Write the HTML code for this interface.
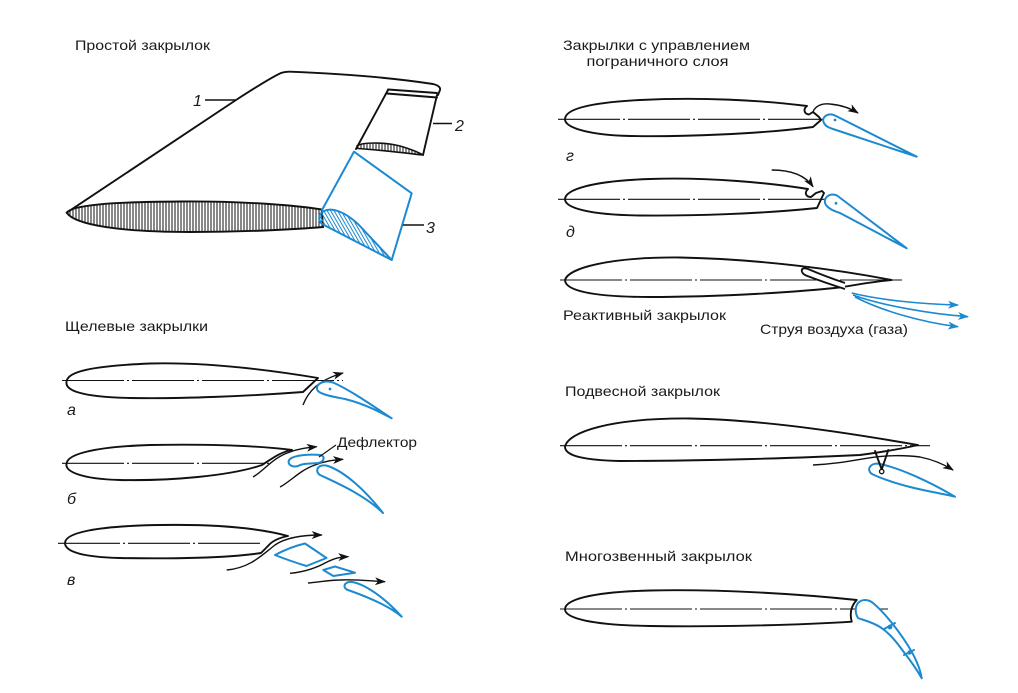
<!DOCTYPE html>
<html><head><meta charset="utf-8"><style>
html,body{margin:0;padding:0;background:#fff;}
svg{display:block;}
text{font-family:"Liberation Sans","DejaVu Sans",sans-serif;fill:#1a1a1a;}
.t{font-size:14px;}
.it{font-size:16px;font-style:italic;}
.k{fill:none;stroke:#111;stroke-width:1.9;stroke-linejoin:round;stroke-linecap:round;}
.kw{fill:#fff;stroke:#111;stroke-width:1.9;stroke-linejoin:round;}
.b{fill:none;stroke:#1c8ad0;stroke-width:2;stroke-linejoin:round;stroke-linecap:round;}
.bw{fill:#fff;stroke:#1c8ad0;stroke-width:2;stroke-linejoin:round;}
.ch{fill:none;stroke:#111;stroke-width:1.1;stroke-dasharray:62 3 2 3;}
.ar{fill:none;stroke:#111;stroke-width:1.4;}
.ab{fill:none;stroke:#1c8ad0;stroke-width:1.6;}
</style></head><body>
<svg width="1018" height="693" viewBox="0 0 1018 693" xmlns="http://www.w3.org/2000/svg">
<defs>
<pattern id="vh" patternUnits="userSpaceOnUse" width="3" height="10">
<line x1="1" y1="0" x2="1" y2="10" stroke="#111" stroke-width="1"/>
</pattern>
<pattern id="bh" patternUnits="userSpaceOnUse" width="3" height="10" patternTransform="rotate(-30)">
<line x1="1" y1="0" x2="1" y2="10" stroke="#1c8ad0" stroke-width="1"/>
</pattern>
<marker id="ma" markerUnits="userSpaceOnUse" markerWidth="11" markerHeight="8" refX="10" refY="4" orient="auto">
<path d="M0,0 L11,4 L0,8 L3,4 Z" fill="#111"/>
</marker>
<marker id="mb" markerUnits="userSpaceOnUse" markerWidth="11" markerHeight="8" refX="10" refY="4" orient="auto">
<path d="M0,0 L11,4 L0,8 L3,4 Z" fill="#1c8ad0"/>
</marker>
</defs>

<!-- ===== Простой закрылок ===== -->
<text class="t" x="75" y="50" textLength="135" lengthAdjust="spacingAndGlyphs">Простой закрылок</text>

<!-- wing outline -->
<path class="k" d="M66.7,212.7 L236,100 Q270,78 281,73 Q285,71.5 290,71.7 C350,74 400,79 433,84 Q441,86 440,90 L438,95"/>
<!-- aileron -->
<path class="k" d="M388,89.5 L437,93 M387,93.5 L437,97.5"/>
<path class="k" d="M388,90 L356,149"/>
<path class="k" d="M437,95 L423,155"/>
<path d="M357,146 C362,142 385,142 400,146 C410,149 418,152 423,155 C405,153 380,150 358,148.5 Z" fill="url(#vh)" stroke="#111" stroke-width="1.6"/>
<!-- root section -->
<path d="M66.7,212.7 C72,205 110,202 180,201.5 C250,201 300,206 321.7,209.5 L323,227 C300,229 250,232 190,232 C120,232 75,225 66.7,212.7 Z" fill="url(#vh)" stroke="#111" stroke-width="1.9"/>
<!-- flap 3 -->
<path class="b" d="M322,210 L354,151.7 L411.7,193.3 L391.7,260"/>
<path d="M324,211 C332,207 345,212 358,224 L391.7,260 L322,224 C318,220 318,214 324,211 Z" fill="url(#bh)" stroke="#1c8ad0" stroke-width="2" stroke-linejoin="round"/>
<!-- labels 1 2 3 -->
<line x1="205" y1="100" x2="236" y2="100" stroke="#111" stroke-width="1.4"/>
<text class="it" x="193" y="106">1</text>
<line x1="433" y1="123.5" x2="452" y2="123.5" stroke="#111" stroke-width="1.4"/>
<text class="it" x="455" y="131">2</text>
<line x1="403" y1="225" x2="424" y2="225" stroke="#111" stroke-width="1.4"/>
<text class="it" x="426" y="233">3</text>

<!-- ===== Щелевые закрылки ===== -->
<text class="t" x="65" y="331" textLength="143" lengthAdjust="spacingAndGlyphs">Щелевые закрылки</text>

<!-- a -->
<path class="k" d="M303,392 C250,396 180,399 130,398 C80,397 64,390 66.7,381 C68,372 90,366 150,363.5 C210,362 270,370 318,378 L303,392 Z"/>
<line class="ch" x1="62" y1="380.5" x2="343" y2="380.5"/>
<path class="ar" d="M303,405 C308,392 318,380 343,373" marker-end="url(#ma)"/>
<path class="bw" d="M391.7,418.3 C370,404 350,390 333,382.5 C322,379 314,386 318,391 C322,395 335,397 345,399 C365,404 380,412 391.7,418.3 Z"/>
<circle cx="330" cy="389" r="1.4" fill="#1c8ad0"/>
<text class="it" x="67" y="415">а</text>

<!-- б -->
<path class="k" d="M262,465 C230,476 170,481 120,480 C80,479 64,471 66.7,463 C68,455 90,447 150,445 C210,444 260,446 292,450 C280,452 270,460 262,465 Z"/>
<line class="ch" x1="62" y1="463.3" x2="272" y2="463.3"/>
<path class="ar" d="M253,477 C265,470 272,458 290,452 C298,449 305,448 316.7,446.7" marker-end="url(#ma)"/>
<path class="ar" d="M280,487 C290,482 300,470 315,465 C325,461 333,460 343,459.3" marker-end="url(#ma)"/>
<path class="bw" d="M290,459 C295,455 310,454 320,455 C326,456 324,462 318,463 C310,464 303,463 298,466 C291,468 286,463 290,459 Z"/>
<line x1="319" y1="457" x2="336" y2="445" stroke="#111" stroke-width="1.1"/>
<text class="t" x="337" y="447" textLength="80" lengthAdjust="spacingAndGlyphs">Дефлектор</text>
<path class="bw" d="M383,513 C365,490 345,472 328,466 C318,463 314,471 320,475 C335,482 365,495 383,513 Z"/>
<text class="it" x="67" y="504">б</text>

<!-- в -->
<path class="k" d="M65,543 C65,533 95,526 160,525 C220,524 262,529 288,536 C278,538 272,541 268,546 L261,553 C230,558 170,559 120,558 C80,557 65,551 65,543 Z"/>
<line class="ch" x1="58" y1="543.3" x2="263" y2="543.3"/>
<path class="ar" d="M226.7,570 C250,568 262,555 275,545 C285,538 300,535 321.7,535" marker-end="url(#ma)"/>
<path class="ar" d="M290,573.3 C305,572 318,567 325,563 C335,558 340,557 348.3,556.7" marker-end="url(#ma)"/>
<path class="ar" d="M308,583 C320,582 330,580 340,580 C355,579 370,581 385,581.7" marker-end="url(#ma)"/>
<path class="bw" d="M275,555 Q290,547 305,543.5 L326.5,558 L306.5,566 Q290,561 275,555 Z"/>
<path class="bw" d="M323.3,570 L335,566.5 L355,572.7 L333.3,576 Z"/>
<path class="bw" d="M401.7,616.7 C385,598 365,584 352,582 C344,581 342,588 348,590 C365,596 388,605 401.7,616.7 Z"/>
<text class="it" x="67" y="585">в</text>

<!-- ===== Закрылки с управлением пограничного слоя ===== -->
<text class="t" x="563" y="50" textLength="187" lengthAdjust="spacingAndGlyphs">Закрылки с управлением</text>
<text class="t" x="586.5" y="66" textLength="142" lengthAdjust="spacingAndGlyphs">пограничного слоя</text>

<!-- г -->
<path class="k" d="M807,106 C803,109 804,114 809,114.5 L813,112 L819,117 L821,120 L813,127 C760,134 680,137 630,136 C590,135 565,128 565,119.3 C565,110 585,103 640,100 C700,97 760,100 807,106 Z"/>
<line class="ch" x1="558" y1="119.3" x2="827" y2="119.3"/>
<path class="ar" d="M813,112 C815,106 822,103 830,104 C840,105 850,108 858,113" marker-end="url(#ma)"/>
<path class="bw" d="M916.7,156.7 L835,115.5 C827,112 821,118 824,123 C826,127 830,128 836,130 Z"/>
<circle cx="835" cy="120" r="1.4" fill="#1c8ad0"/>
<text class="it" x="566" y="161">г</text>

<!-- д -->
<path class="k" d="M808,189 C804,193 806,197 811,197 L816,193 L822,191 L824,193 L817,208 C760,214 690,216 640,215.5 C590,215 565,208 565,199.3 C565,190 590,181 650,179 C710,177 770,183 808,189 Z"/>
<line class="ch" x1="558" y1="199.3" x2="828" y2="199.3"/>
<path class="ar" d="M771.7,170 C790,170 805,175 813,186.7" marker-end="url(#ma)"/>
<path class="bw" d="M906.7,248.3 L837,195.5 C829,192 822,199 826,205 C829,209 834,211 840,213 Z"/>
<circle cx="836" cy="203.3" r="1.4" fill="#1c8ad0"/>
<text class="it" x="566" y="237">д</text>

<!-- reactive -->
<path class="k" d="M891.7,280 C840,270 760,259 680,257.5 C610,257 568,268 565,280 C565,290 590,297 650,297 C720,297 800,292 843,287 C860,284 880,281 891.7,280 Z"/>
<line class="ch" x1="560" y1="280" x2="905" y2="280"/>
<path class="kw" stroke-width="1.6" d="M845,283 C830,278 815,272 808,269 C800,266 800,273 806,275.5 C818,280 832,285 845,289"/>
<path class="ab" d="M851.7,293 C880,300 920,304 958,305" marker-end="url(#mb)"/>
<path class="ab" d="M853,295 C880,305 930,314 968,316.7" marker-end="url(#mb)"/>
<path class="ab" d="M855,297 C880,310 920,322 958,326.7" marker-end="url(#mb)"/>
<text class="t" x="563" y="320" textLength="163" lengthAdjust="spacingAndGlyphs">Реактивный закрылок</text>
<text class="t" x="760" y="334" textLength="148" lengthAdjust="spacingAndGlyphs">Струя воздуха (газа)</text>

<!-- hanging -->
<text class="t" x="565" y="396" textLength="155" lengthAdjust="spacingAndGlyphs">Подвесной закрылок</text>
<path class="k" d="M918,445 C860,435 770,420 690,418.5 C610,418 568,432 565,446.7 C565,455 580,460 620,461 C700,461 800,458 860,455 C890,451 905,448 918,445 Z"/>
<line class="ch" x1="560" y1="445.7" x2="930" y2="445.7"/>
<path class="ar" d="M813,465 C835,464 850,461 866.7,458.3 C885,455 905,455 920,457 C935,460 945,465 953,470" marker-end="url(#ma)"/>
<path class="bw" d="M955,496.7 C930,482 900,468 880,464 C870,462 866,470 872,474 C880,478 895,483 910,487 C930,492 945,494 955,496.7 Z"/>
<path class="k" stroke-width="1.5" d="M875,451 L881.7,469.5 L888.3,450"/>
<circle cx="881.7" cy="471.5" r="2.2" fill="#fff" stroke="#111" stroke-width="1.3"/>

<!-- multi -->
<text class="t" x="565" y="561" textLength="187" lengthAdjust="spacingAndGlyphs">Многозвенный закрылок</text>
<path class="k" d="M856.7,600 C850,607 850,615 851.7,621.7 C800,625 720,627 650,626 C590,625 565,618 565,609.3 C565,600 590,592 650,590.5 C720,589 800,594 856.7,600 Z"/>
<line class="ch" x1="560" y1="609" x2="888" y2="609"/>
<path class="bw" d="M858,603 C862,599 868,599 873,603 C885,613 898,630 907,644 C914,655 920,667 921.7,678.3 C916,668 910,660 903,651 C896,641 888,632 880,627 C872,622 863,620 858,618 C855,613 855,607 858,603 Z"/>
<line class="b" x1="884" y1="629" x2="895" y2="623"/>
<line class="b" x1="904" y1="655" x2="914" y2="650"/>
<circle cx="890" cy="627" r="2.4" fill="#1c8ad0"/>
<circle cx="909.5" cy="652.5" r="2.2" fill="#1c8ad0"/>
</svg>
</body></html>
